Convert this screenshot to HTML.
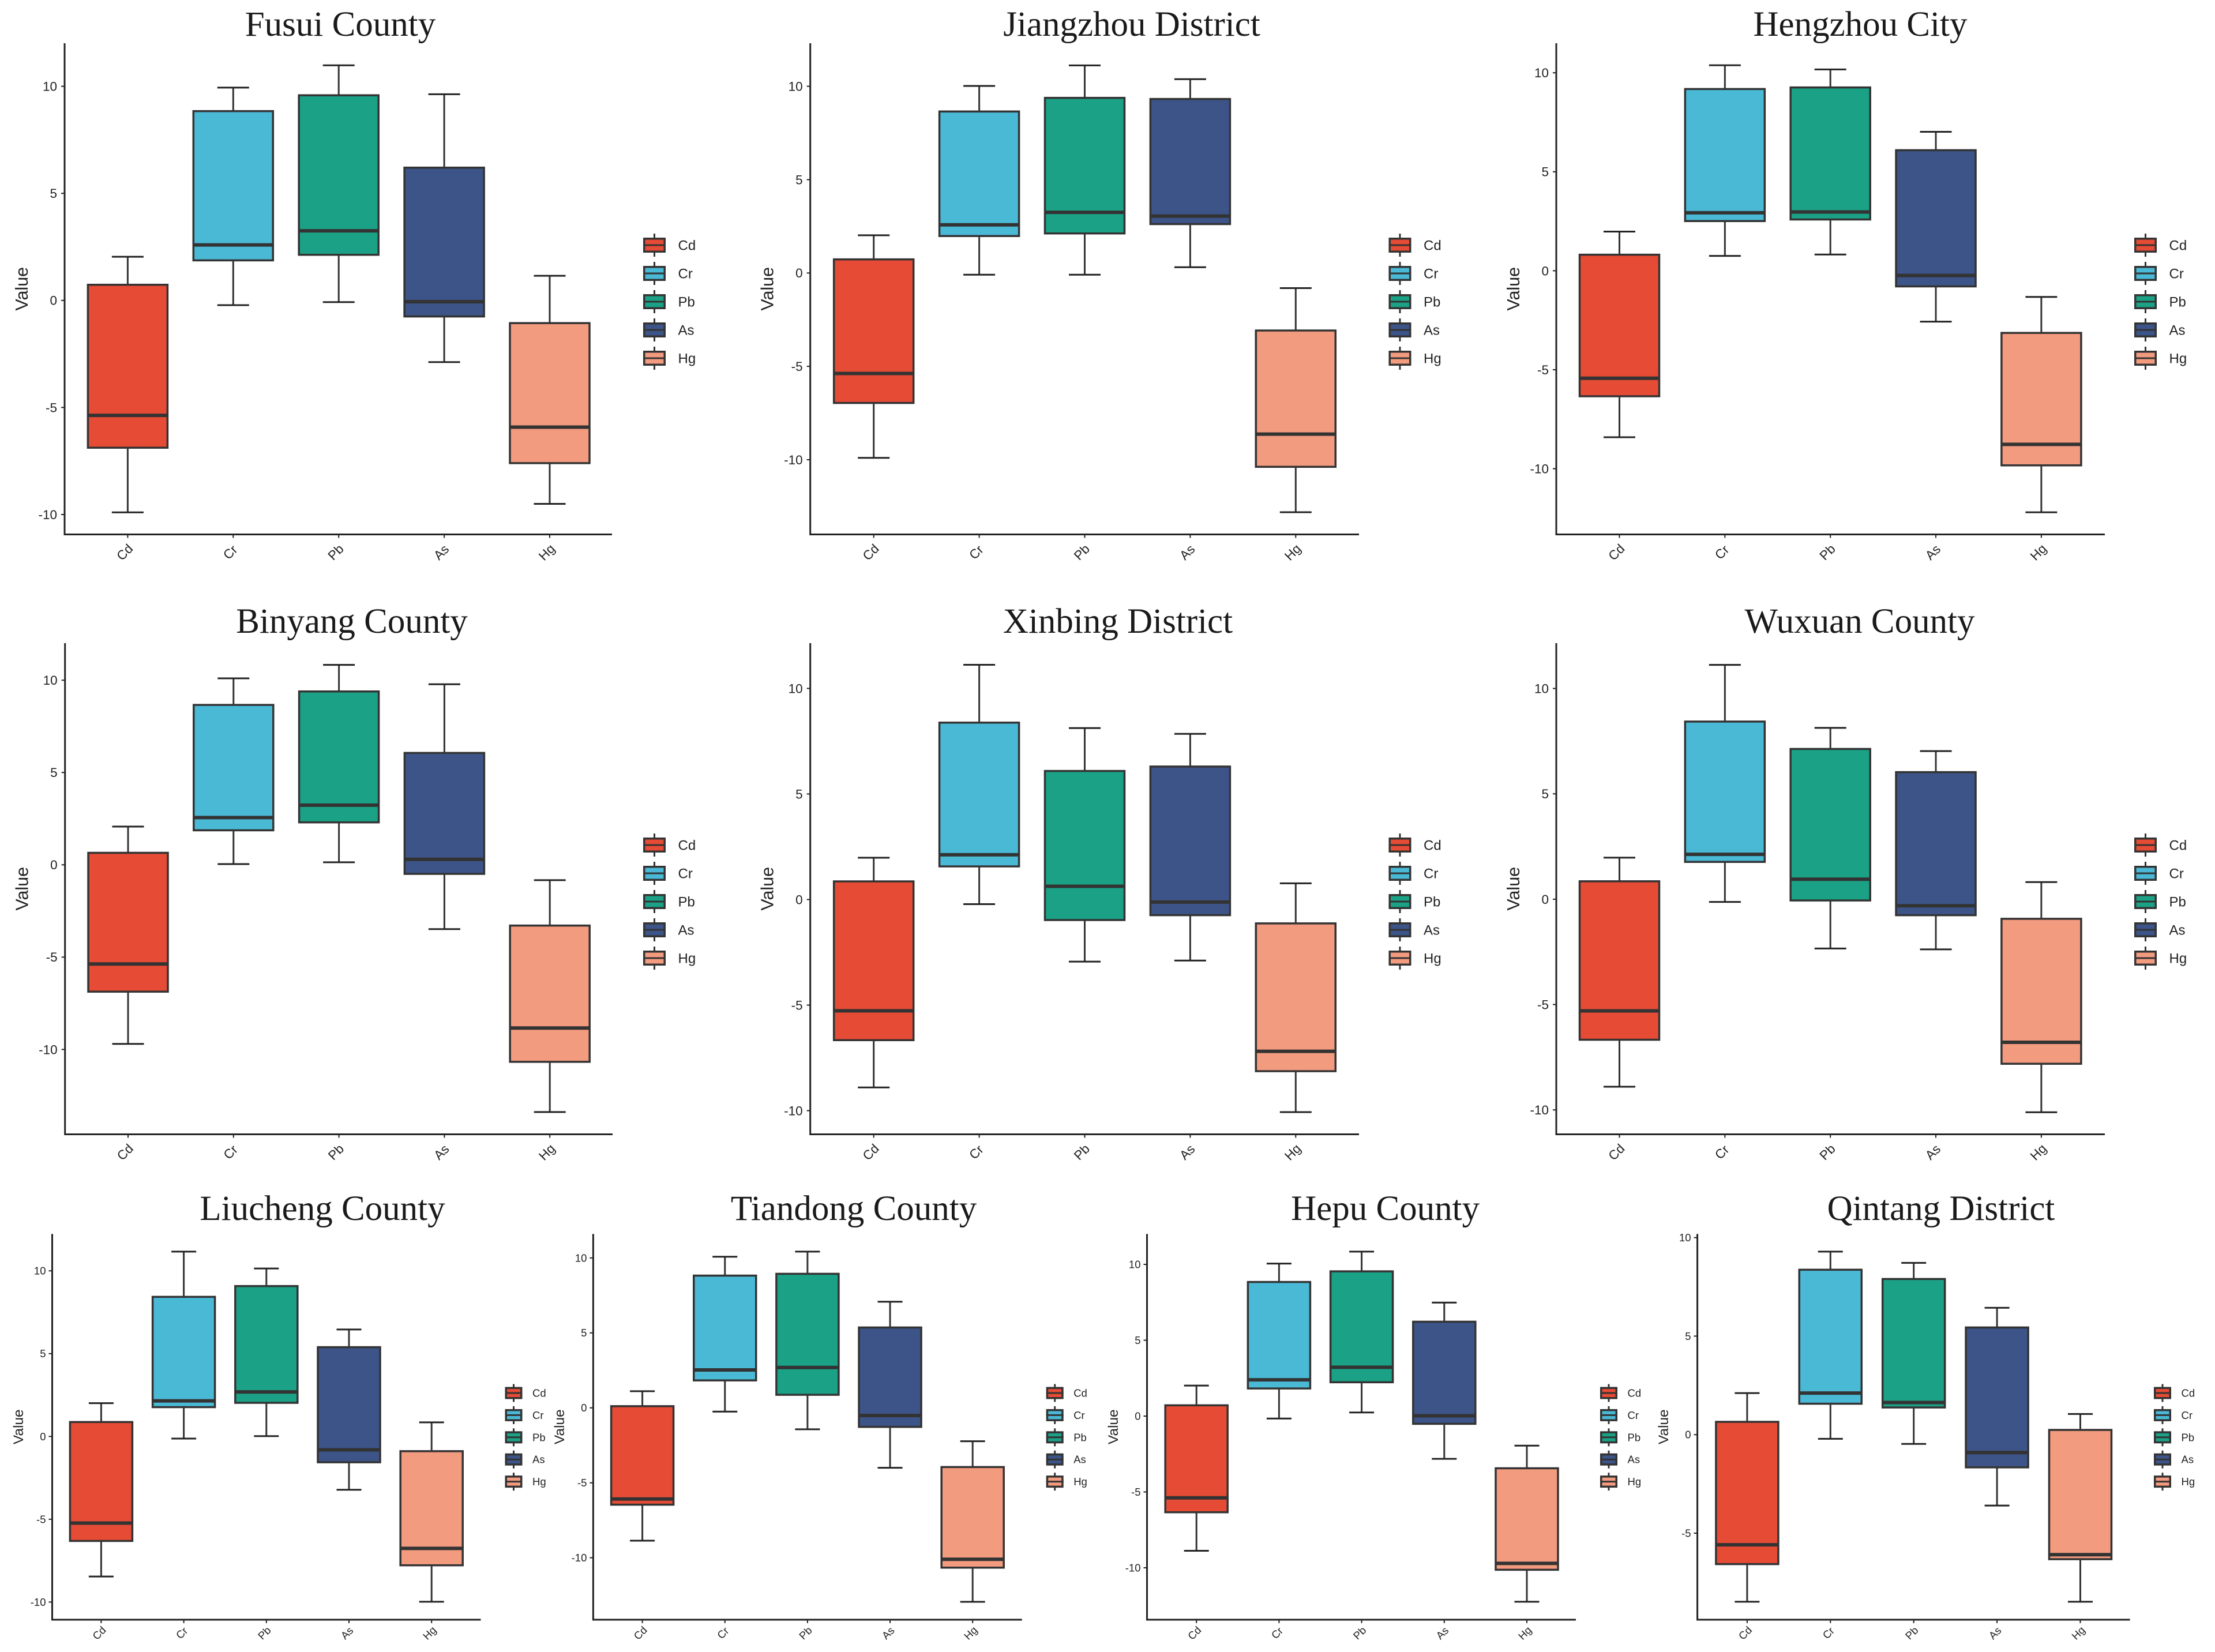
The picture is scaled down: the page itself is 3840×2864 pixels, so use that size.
<!DOCTYPE html>
<html lang="en">
<head>
<meta charset="utf-8">
<title>Boxplots of heavy metals by district</title>
<style>
html,body{margin:0;padding:0;background:#fff;}
body{width:3840px;height:2864px;overflow:hidden;}
svg{display:block;}
.sans{font-family:"Liberation Sans",sans-serif;fill:#222;}
.serif{font-family:"Liberation Serif",serif;fill:#1a1a1a;}
</style>
</head>
<body>
<svg id="figure" xmlns="http://www.w3.org/2000/svg" width="3840" height="2864" viewBox="0 0 3840 2864"></svg>
<script>
const categories = ['Cd', 'Cr', 'Pb', 'As', 'Hg'];
const defaultTicks = [-10, -5, 0, 5, 10];
const qintangTicks = [-5, 0, 5, 10];

// Each row: [upper whisker, Q3, median, Q1, lower whisker], in the order of categories
const fusuiCounty = [[2.04,0.73,-5.37,-6.88,-9.9],[9.94,8.84,2.59,1.87,-0.22],[10.98,9.58,3.25,2.13,-0.08],[9.63,6.2,-0.06,-0.75,-2.88],[1.15,-1.06,-5.92,-7.6,-9.5]];
const jiangzhouDistrict = [[2.02,0.73,-5.38,-6.96,-9.9],[10.02,8.65,2.58,1.98,-0.09],[11.12,9.38,3.25,2.12,-0.09],[10.38,9.32,3.05,2.62,0.31],[-0.81,-3.08,-8.63,-10.38,-12.81]];
const hengzhouCity = [[1.98,0.81,-5.43,-6.34,-8.41],[10.38,9.18,2.93,2.51,0.75],[10.17,9.26,2.97,2.59,0.82],[7.02,6.09,-0.24,-0.79,-2.57],[-1.32,-3.14,-8.77,-9.83,-12.2]];
const binyangCounty = [[2.07,0.65,-5.37,-6.87,-9.7],[10.1,8.66,2.56,1.87,0.04],[10.83,9.39,3.23,2.3,0.14],[9.78,6.06,0.3,-0.49,-3.48],[-0.83,-3.29,-8.84,-10.67,-13.39]];
const xinbingDistrict = [[1.98,0.86,-5.27,-6.66,-8.9],[11.12,8.38,2.12,1.57,-0.22],[8.12,6.09,0.63,-0.97,-2.94],[7.85,6.3,-0.12,-0.74,-2.89],[0.77,-1.13,-7.19,-8.13,-10.07]];
const wuxuanCounty = [[1.97,0.85,-5.3,-6.67,-8.9],[11.12,8.43,2.13,1.77,-0.13],[8.13,7.13,0.95,-0.06,-2.34],[7.03,6.03,-0.31,-0.76,-2.38],[0.81,-0.93,-6.79,-7.81,-10.11]];
const liuchengCounty = [[2.01,0.87,-5.23,-6.31,-8.46],[11.16,8.43,2.15,1.77,-0.13],[10.14,9.08,2.69,2.03,0.02],[6.46,5.39,-0.81,-1.56,-3.22],[0.85,-0.89,-6.76,-7.78,-9.98]];
const tiandongCounty = [[1.11,0.11,-6.08,-6.46,-8.86],[10.08,8.82,2.53,1.83,-0.25],[10.42,8.94,2.69,0.87,-1.43],[7.08,5.36,-0.51,-1.27,-4.0],[-2.23,-3.95,-10.1,-10.66,-12.94]];
const hepuCounty = [[2.01,0.71,-5.39,-6.34,-8.88],[10.05,8.84,2.39,1.82,-0.16],[10.84,9.54,3.22,2.23,0.24],[7.48,6.22,0.02,-0.51,-2.82],[-1.95,-3.44,-9.71,-10.13,-12.24]];
const qintangDistrict = [[2.11,0.65,-5.59,-6.57,-8.48],[9.29,8.37,2.11,1.57,-0.21],[8.72,7.9,1.63,1.38,-0.47],[6.44,5.44,-0.91,-1.66,-3.6],[1.05,0.24,-6.09,-6.32,-8.48]];

const fillColors = ['#E64B35', '#4AB9D6', '#1BA186', '#3C5488', '#F39B7F'];

const largeStyle = {boxW:138, capW:55, tickFont:22.5, valueFont:30.5, valueGap:74, legW:39, legBox:22.5, legStub:40, legGap:49, legLabelGap:21.5, legFont:24, xDy:31, xDx:-5, tickGap:13};
const smallStyle = {boxW:108, capW:43, tickFont:18.5, valueFont:24.4, valueGap:58, legW:30, legBox:17.5, legStub:31, legGap:38.4, legLabelGap:17.5, legFont:18.5, xDy:23, xDx:-3.5, tickGap:11};

const panels = [
  {title:'Fusui County', titleX:590, titleY:62, stats:fusuiCounty, ticks:defaultTicks, left:112, right:1061, top:75, bottom:926.5, zeroY:520.8, unit:37.12, firstX:221.4, step:182.9, legendX:1115, legendY:425, style:largeStyle},
  {title:'Jiangzhou District', titleX:1962, titleY:62, stats:jiangzhouDistrict, ticks:defaultTicks, left:1404.7, right:2356, top:75, bottom:926.5, zeroY:473.3, unit:32.37, firstX:1514.7, step:182.9, legendX:2407.5, legendY:425, style:largeStyle},
  {title:'Hengzhou City', titleX:3225, titleY:62, stats:hengzhouCity, ticks:defaultTicks, left:2698, right:3649, top:75, bottom:926.5, zeroY:469.4, unit:34.32, firstX:2807.5, step:182.85, legendX:3700, legendY:425, style:largeStyle},
  {title:'Binyang County', titleX:610, titleY:1097, stats:binyangCounty, ticks:defaultTicks, left:112.7, right:1062, top:1115, bottom:1966.5, zeroY:1499.3, unit:32.01, firstX:222, step:182.8, legendX:1115, legendY:1465, style:largeStyle},
  {title:'Xinbing District', titleX:1938, titleY:1097, stats:xinbingDistrict, ticks:defaultTicks, left:1404.7, right:2356, top:1115, bottom:1966.5, zeroY:1559.5, unit:36.6, firstX:1514.7, step:182.9, legendX:2407.5, legendY:1465, style:largeStyle},
  {title:'Wuxuan County', titleX:3224, titleY:1097, stats:wuxuanCounty, ticks:defaultTicks, left:2698, right:3649, top:1115, bottom:1966.5, zeroY:1558.9, unit:36.53, firstX:2807.5, step:182.85, legendX:3700, legendY:1465, style:largeStyle},
  {title:'Liucheng County', titleX:559, titleY:2115, stats:liuchengCounty, ticks:defaultTicks, left:90.5, right:833.5, top:2139.3, bottom:2808, zeroY:2490.3, unit:28.71, firstX:175.4, step:143.2, legendX:875.5, legendY:2415, style:smallStyle},
  {title:'Tiandong County', titleX:1480, titleY:2115, stats:tiandongCounty, ticks:defaultTicks, left:1028.4, right:1771.7, top:2139.3, bottom:2808, zeroY:2440.7, unit:25.99, firstX:1113.6, step:143.15, legendX:1813.7, legendY:2415, style:smallStyle},
  {title:'Hepu County', titleX:2401.6, titleY:2115, stats:hepuCounty, ticks:defaultTicks, left:1988.5, right:2732, top:2139.3, bottom:2808, zeroY:2455, unit:26.3, firstX:2074.2, step:143.2, legendX:2774, legendY:2415, style:smallStyle},
  {title:'Qintang District', titleX:3365, titleY:2115, stats:qintangDistrict, ticks:qintangTicks, left:2942.6, right:3692.6, top:2139.3, bottom:2808, zeroY:2487.2, unit:34.16, firstX:3028.9, step:144.4, legendX:3734, legendY:2415, style:smallStyle}
];

const SVG_NS = 'http://www.w3.org/2000/svg';
const figure = document.getElementById('figure');
const AXIS = '#222';
const EDGE = '#333';

function make(tag, attrs, parent) {
  const node = document.createElementNS(SVG_NS, tag);
  for (const k in attrs) node.setAttribute(k, attrs[k]);
  parent.appendChild(node);
  return node;
}
function xScale(p, i) { return p.firstX + i * p.step; }
function yScale(p, v) { return p.zeroY - v * p.unit; }
function slug(s) { return s.toLowerCase().replace(/\s+/g, '-'); }

panels.forEach(function (p) {
  const st = p.style;
  const name = slug(p.title);
  let el;

  const g = make('g', {}, figure);
  
  

  el = make('text', {x:p.titleX, y:p.titleY, 'text-anchor':'middle', 'font-size':61, class:'serif'}, g);
  el.textContent = p.title;
  
  

  const vx = p.left - st.valueGap, vy = (p.top + p.bottom) / 2;
  el = make('text', {x:vx, y:vy, 'text-anchor':'middle', 'dominant-baseline':'central', 'font-size':st.valueFont, class:'sans', transform:'rotate(-90 ' + vx + ' ' + vy + ')'}, g);
  el.textContent = 'Value';
  
  

  p.ticks.forEach(function (t) {
    const ty = yScale(p, t);
    el = make('line', {x1:p.left - 6, x2:p.left, y1:ty, y2:ty, stroke:AXIS, 'stroke-width':2}, g);
    
    
    el = make('text', {x:p.left - st.tickGap, y:ty + st.tickFont * 0.35, 'text-anchor':'end', 'font-size':st.tickFont, class:'sans'}, g);
    el.textContent = String(t);
    
    
  });

  p.stats.forEach(function (row, i) {
    const cx = xScale(p, i);
    const cat = categories[i].toLowerCase();
    const high = yScale(p, row[0]), q3 = yScale(p, row[1]), med = yScale(p, row[2]), q1 = yScale(p, row[3]), low = yScale(p, row[4]);

    el = make('line', {x1:cx, x2:cx, y1:high, y2:q3, stroke:EDGE, 'stroke-width':3}, g);
    
    
    el = make('line', {x1:cx, x2:cx, y1:q1, y2:low, stroke:EDGE, 'stroke-width':3}, g);
    
    
    el = make('line', {x1:cx - st.capW / 2, x2:cx + st.capW / 2, y1:high, y2:high, stroke:AXIS, 'stroke-width':3}, g);
    
    
    el = make('line', {x1:cx - st.capW / 2, x2:cx + st.capW / 2, y1:low, y2:low, stroke:AXIS, 'stroke-width':3}, g);
    
    
    el = make('rect', {x:cx - st.boxW / 2, y:q3, width:st.boxW, height:q1 - q3, fill:fillColors[i], stroke:EDGE, 'stroke-width':3.5}, g);
    
    
    el = make('line', {x1:cx - st.boxW / 2, x2:cx + st.boxW / 2, y1:med, y2:med, stroke:EDGE, 'stroke-width':6}, g);
    
    

    el = make('line', {x1:cx, x2:cx, y1:p.bottom, y2:p.bottom + 6, stroke:AXIS, 'stroke-width':2}, g);
    
    
    const lx = cx + st.xDx, ly = p.bottom + st.xDy;
    el = make('text', {x:lx, y:ly, 'text-anchor':'middle', 'dominant-baseline':'central', 'font-size':st.tickFont, class:'sans', transform:'rotate(-45 ' + lx + ' ' + ly + ')'}, g);
    el.textContent = categories[i];
    
    
  });

  el = make('line', {x1:p.left, x2:p.left, y1:p.top, y2:p.bottom + 1.5, stroke:AXIS, 'stroke-width':3}, g);
  
  
  el = make('line', {x1:p.left, x2:p.right, y1:p.bottom, y2:p.bottom, stroke:AXIS, 'stroke-width':3}, g);
  
  

  const lg = make('g', {}, g);
  
  
  categories.forEach(function (c, i) {
    const kx = p.legendX;
    const ky = p.legendY + i * st.legGap;
    const kc = kx + st.legW / 2;
    el = make('line', {x1:kc, x2:kc, y1:ky - st.legStub / 2, y2:ky + st.legStub / 2, stroke:EDGE, 'stroke-width':3}, lg);
    
    
    el = make('rect', {x:kx + 1.75, y:ky - st.legBox / 2, width:st.legW - 3.5, height:st.legBox, fill:fillColors[i], stroke:EDGE, 'stroke-width':3.5}, lg);
    
    
    el = make('line', {x1:kx, x2:kx + st.legW, y1:ky, y2:ky, stroke:EDGE, 'stroke-width':3}, lg);
    
    
    el = make('text', {x:kx + st.legW + st.legLabelGap, y:ky + st.legFont * 0.35, 'font-size':st.legFont, class:'sans'}, lg);
    el.textContent = c;
    
    
  });
});
</script>
</body>
</html>
